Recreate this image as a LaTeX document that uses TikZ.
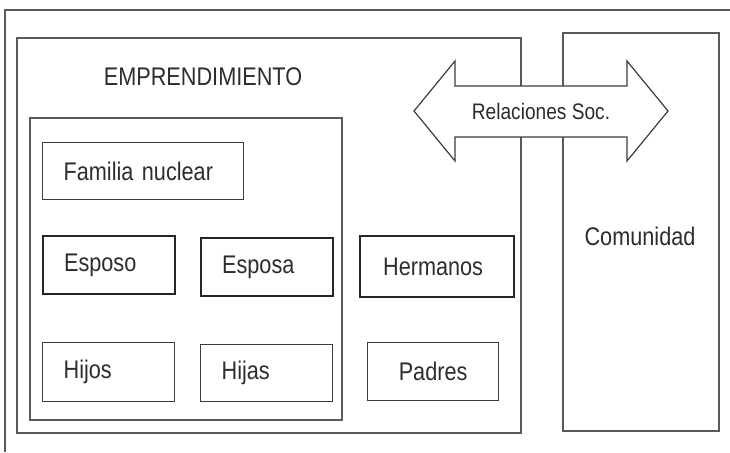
\documentclass[tikz,border=0pt]{standalone}
\usepackage{fontspec}
\setmainfont{Liberation Sans}[FakeStretch=0.85]
\definecolor{linegray}{RGB}{60,60,60}
\definecolor{framegray}{RGB}{90,90,90}
\definecolor{textgray}{RGB}{45,45,45}

\begin{document}
\begin{tikzpicture}[x=1pt, y=-1pt,
    every node/.style={font=\fontsize{25.5}{30}\selectfont, text=textgray},
    boxframe/.style={draw=framegray, line width=1.5pt},
    member/.style={draw=linegray, line width=1.2pt, anchor=north west, minimum height=58pt, inner xsep=21pt, align=left},
    thickbox/.style={member, line width=2.2pt, draw=black!85}]
    \useasboundingbox (0,0) rectangle (730,452);

    % Outer frame (cut off at right and bottom)
    \draw[boxframe] (730,10) -- (5,10) -- (5,452);

    % Emprendimiento, family and community frames
    \draw[boxframe] (17,38) rectangle (521,433);
    \draw[boxframe] (30,118) rectangle (342,420);
    \draw[boxframe] (563,33) rectangle (719,431);
    \node (emp) at (203,77) {EMPRENDIMIENTO};
    \node (comunidad) at (640,236) {Comunidad};

    % Family members
    \node[member, text width=159pt, minimum height=57pt] (famnuclear) at (42,142) {Familia nuclear};
    \node[thickbox, text width=90pt] (esposo) at (42,235) {Esposo};
    \node[thickbox, text width=90pt] (esposa) at (200,237) {Esposa};
    \node[thickbox, text width=108pt, inner xsep=23pt, minimum height=61pt] (hermanos) at (359,235) {Hermanos};
    \node[member, text width=90pt, minimum height=59pt] (hijos) at (42,342) {Hijos};
    \node[member, text width=90pt, minimum height=57pt] (hijas) at (200,344) {Hijas};
    \node[member, text width=131pt, inner xsep=0pt, align=center] (padres) at (367,342) {Padres};

    % Double arrow between the two frames
    \draw[linegray, line width=1.2pt, fill=white] (414,111) -- (455,61) -- (455,86) -- (627,86) -- (627,61)
        -- (668,111) -- (627,161) -- (627,137) -- (455,137) -- (455,161) -- cycle;
    \node[font=\fontsize{22.5}{26}\selectfont] (relsoc) at (541,111) {Relaciones Soc.};
\end{tikzpicture}
\end{document}
